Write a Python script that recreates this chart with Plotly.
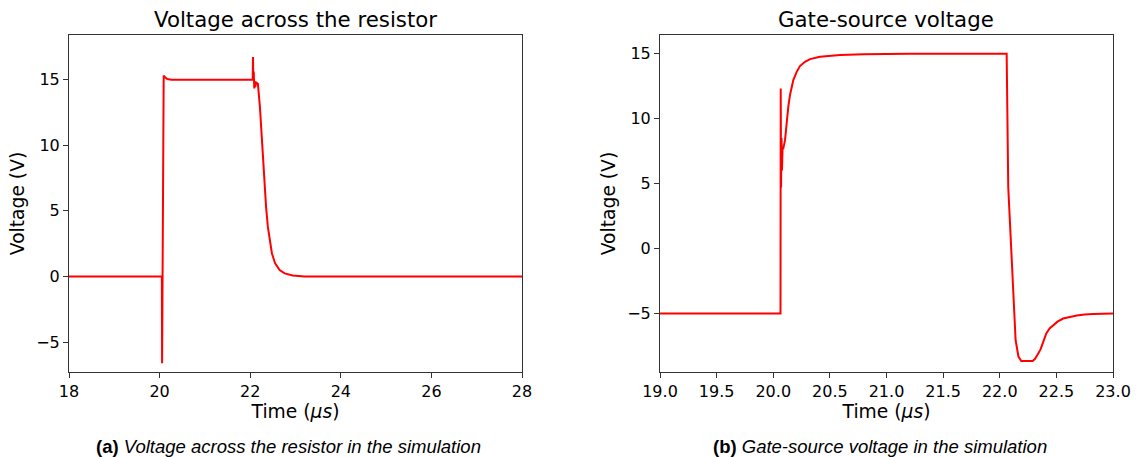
import plotly.graph_objects as go

# (a) Voltage across the resistor
t_a = [18.0, 20.05, 20.055, 20.065, 20.08, 20.09, 20.12, 20.17, 20.26, 22.055,
       22.062, 22.068, 22.078, 22.09, 22.10, 22.11, 22.13, 22.17, 22.215,
       22.26, 22.30, 22.35, 22.39, 22.43, 22.48, 22.55, 22.65, 22.76, 22.94,
       23.2, 28.0]
v_a = [0.0, 0.0, -6.6, 0.0, 12.0, 15.28, 15.15, 15.02, 14.97, 14.97,
       16.7, 15.0, 15.6, 14.3, 14.8, 14.4, 14.75, 14.65, 12.88,
       10.35, 7.82, 5.29, 3.77, 2.76, 1.75, 0.99, 0.48, 0.23, 0.08,
       0.0, 0.0]

# (b) Gate-source voltage
t_b = [19.0, 20.064, 20.066, 20.069, 20.073, 20.077, 20.082, 20.089, 20.104,
       20.133, 20.148, 20.177, 20.207, 20.236, 20.28, 20.325, 20.413, 20.59,
       20.8, 21.2, 22.061, 22.075, 22.14, 22.165, 22.19, 22.29, 22.31, 22.335,
       22.36, 22.385, 22.41, 22.44, 22.47, 22.51, 22.56, 22.62, 22.68, 22.75,
       22.82, 23.0]
v_b = [-5.0, -5.0, 12.3, 4.7, 8.5, 6.0, 7.7, 7.7, 8.33,
       10.9, 11.8, 12.95, 13.58, 14.02, 14.35, 14.56, 14.74, 14.87,
       14.93, 14.97, 14.97, 4.74, -7.05, -8.3, -8.65, -8.65, -8.5, -8.15,
       -7.75, -7.15, -6.54, -6.15, -5.9, -5.62, -5.38, -5.24, -5.15, -5.08,
       -5.04, -5.0]

xticks_a = [18, 20, 22, 24, 26, 28]
xticks_b = [19.0, 19.5, 20.0, 20.5, 21.0, 21.5, 22.0, 22.5, 23.0]
yticks_a = [-5, 0, 5, 10, 15]
yticks_b = [-5, 0, 5, 10, 15]

W, H = 1139, 457
FONT = "DejaVu Sans"


def px(x):
    return x / W


def py(y):
    return 1 - y / H


fig = go.Figure()
fig.add_trace(go.Scatter(x=t_a, y=v_a, mode="lines", xaxis="x", yaxis="y",
                         line=dict(color="#ff0000", width=2), showlegend=False))
fig.add_trace(go.Scatter(x=t_b, y=v_b, mode="lines", xaxis="x2", yaxis="y2",
                         line=dict(color="#ff0000", width=2), showlegend=False))

ydom = [py(372), py(35)]
axis_common = dict(showline=True, linecolor="#333333", linewidth=1, mirror=True,
                   ticks="outside", ticklen=5, tickcolor="#333333", showgrid=False,
                   zeroline=False, automargin=False,
                   tickfont=dict(family=FONT, size=16, color="#000"))
LBL = dict(family=FONT, size=18.7, color="#000")


def tick_text(vals, fmt):
    return [fmt(v).replace("-", "\u2212") for v in vals]


fig.update_layout(
    width=W, height=H,
    margin=dict(l=0, r=0, t=0, b=0, autoexpand=False),
    paper_bgcolor="white", plot_bgcolor="white",
    font=dict(family=FONT, size=16, color="#000"),
    xaxis=dict(domain=[px(69), px(522)], range=[18, 28], anchor="y",
               tickvals=xticks_a, ticktext=tick_text(xticks_a, lambda v: f"{v:d}"),
               title=dict(text="Time (<i>μs</i>)", standoff=3, font=LBL),
               **axis_common),
    yaxis=dict(domain=ydom, range=[-7.27, 18.37], anchor="x",
               tickvals=yticks_a, ticktext=tick_text(yticks_a, lambda v: f"{v:d}"),
               title=dict(text="Voltage (V)", standoff=6, font=LBL),
               **axis_common),
    xaxis2=dict(domain=[px(660), px(1113)], range=[19, 23], anchor="y2",
                tickvals=xticks_b, ticktext=tick_text(xticks_b, lambda v: f"{v:.1f}"),
                title=dict(text="Time (<i>μs</i>)", standoff=3, font=LBL),
                **axis_common),
    yaxis2=dict(domain=ydom, range=[-9.49, 16.41], anchor="x2",
                tickvals=yticks_b, ticktext=tick_text(yticks_b, lambda v: f"{v:d}"),
                title=dict(text="Voltage (V)", standoff=6, font=LBL),
                **axis_common),
)

TITLE = dict(family=FONT, size=21.3, color="#000")
CAP = dict(family="Liberation Sans", size=18.5, color="#000")
fig.add_annotation(text="Voltage across the resistor", x=px(295), y=py(19),
                   xref="paper", yref="paper", showarrow=False, xanchor="center",
                   yanchor="middle", font=TITLE)
fig.add_annotation(text="Gate-source voltage", x=px(886), y=py(19),
                   xref="paper", yref="paper", showarrow=False, xanchor="center",
                   yanchor="middle", font=TITLE)
fig.add_annotation(text="<b>(a)</b> <i>Voltage across the resistor in the simulation</i>",
                   x=px(288.5), y=py(446), xref="paper", yref="paper", showarrow=False,
                   xanchor="center", yanchor="middle", font=CAP)
fig.add_annotation(text="<b>(b)</b> <i>Gate-source voltage in the simulation</i>",
                   x=px(880), y=py(446), xref="paper", yref="paper", showarrow=False,
                   xanchor="center", yanchor="middle", font=CAP)

fig.write_html("out.html",
               config={"displayModeBar": False},
               post_script="document.body.style.margin='0px';"
                           "document.body.style.overflow='hidden';")
